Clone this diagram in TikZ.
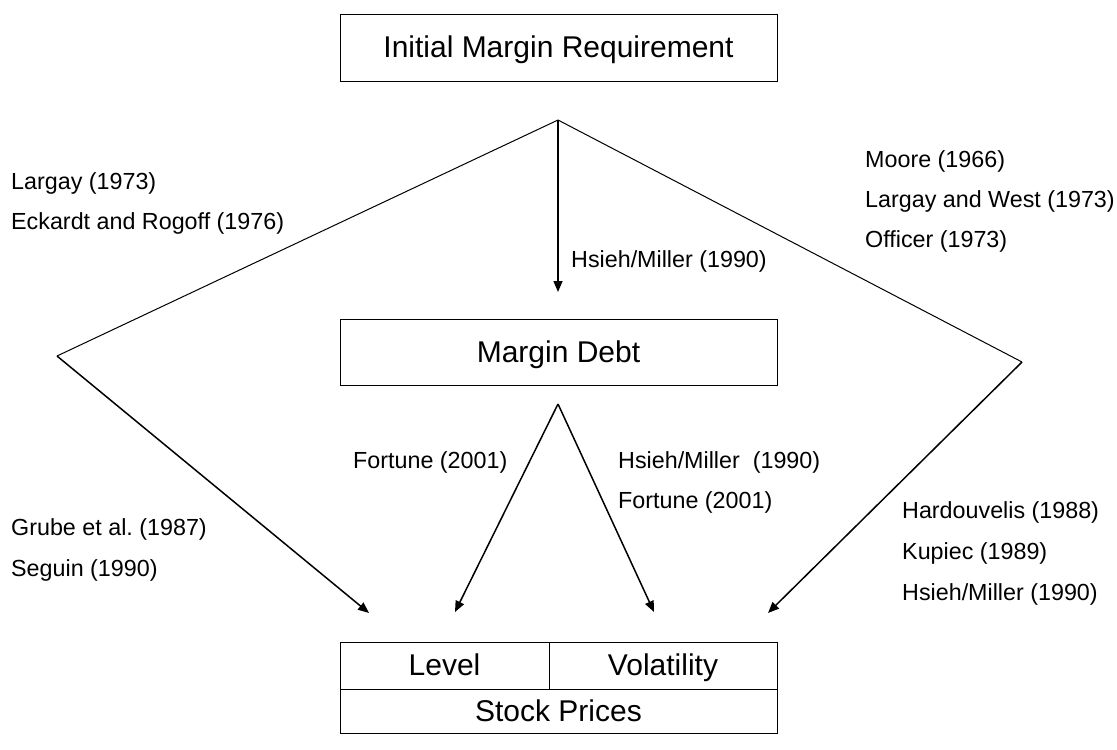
\documentclass[tikz,border=0pt]{standalone}
\usepackage{fontspec}
\setmainfont{Liberation Sans}
\usetikzlibrary{arrows.meta}
\frenchspacing
\begin{document}
\begin{tikzpicture}[x=1pt,y=-1pt,
  box/.style={draw, line width=1pt, inner sep=0pt, text height=24pt, text depth=4pt, font=\fontsize{30}{36}\selectfont},
  lbl/.style={anchor=mid west, inner sep=0pt, font=\fontsize{23.3}{28}\selectfont},
  arr/.style={line width=1.5pt, -{Triangle[length=11pt,width=9pt]}},
  thin/.style={line width=1pt}]
\useasboundingbox (0,0) rectangle (1117,750);
% boxes
\node[box, minimum width=437pt, minimum height=67pt] (imr) at (558.5,47.5) {Initial Margin Requirement};
\node[box, minimum width=437pt, minimum height=66pt] (md) at (558.5,352) {Margin Debt};
\node[box, minimum width=209pt, minimum height=47pt] (lev) at (444.5,665.5) {Level};
\node[box, minimum width=228pt, minimum height=47pt] (vol) at (663,665.5) {Volatility};
\node[box, minimum width=437pt, minimum height=44pt] (sp) at (558.5,711) {Stock Prices};
% junction points
\coordinate (top) at (558,120);
\coordinate (lv) at (57,356);
\coordinate (rv) at (1022,362);
\coordinate (mid) at (558,404);
\coordinate (vt) at (558,292);
\coordinate (la) at (369,613);
\coordinate (ml) at (455,612);
\coordinate (mr) at (654,612);
\coordinate (ra) at (768,613);
% connectors
\draw[arr] (top) -- (vt);
\draw[thin] (top) -- (lv);
\draw[thin] (top) -- (rv);
\draw[arr] (lv) -- (la);
\draw[arr] (rv) -- (ra);
\draw[arr] (mid) -- (ml);
\draw[arr] (mid) -- (mr);
% labels
\node[lbl] (l1) at (11,187) {Largay (1973)};
\node[lbl] (l2) at (11,227) {Eckardt and Rogoff (1976)};
\node[lbl] (r1) at (865,165) {Moore (1966)};
\node[lbl] (r2) at (865,205) {Largay and West (1973)};
\node[lbl] (r3) at (865,245) {Officer (1973)};
\node[lbl] (c1) at (571,265) {Hsieh/Miller (1990)};
\node[lbl] (m1) at (353,466) {Fortune (2001)};
\node[lbl] (m2) at (618,466) {Hsieh/Miller\ \ (1990)};
\node[lbl] (m3) at (618,506) {Fortune (2001)};
\node[lbl] (g1) at (11,533) {Grube et al. (1987)};
\node[lbl] (g2) at (11,574) {Seguin (1990)};
\node[lbl] (h1) at (902,516) {Hardouvelis (1988)};
\node[lbl] (h2) at (902,557) {Kupiec (1989)};
\node[lbl] (h3) at (902,598) {Hsieh/Miller (1990)};
\end{tikzpicture}
\end{document}
